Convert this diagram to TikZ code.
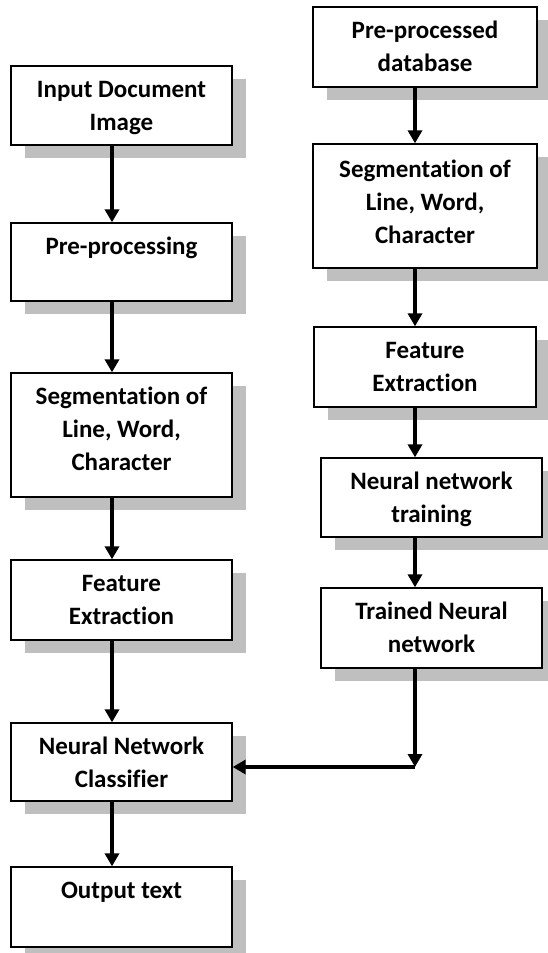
\documentclass[tikz,border=0pt]{standalone}
\usepackage{fontspec}
\setmainfont{Carlito}[Ligatures={NoCommon}]
\usetikzlibrary{arrows.meta,fit,shadows}
\definecolor{shadowgray}{RGB}{191,191,191}
\newcommand\mystrut{\rule{0pt}{20pt}}
\begin{document}
\begin{tikzpicture}[x=1pt,y=-1pt,
 box/.style={draw=black,line width=1.3pt,fill=white,inner sep=0pt,
   drop shadow={shadow xshift=14pt,shadow yshift=-13pt,fill=shadowgray,opacity=1}},
 txt/.style={anchor=north,inner sep=0pt,align=center,font=\fontsize{25}{33}\selectfont\bfseries},
 arr/.style={line width=4pt,-{Triangle[width=14pt,length=13pt]}},
 conn/.style={line width=4pt}]
\useasboundingbox (0,0) rectangle (548,953);
\coordinate (lc) at (112,0);
\coordinate (rc) at (415,0);
% left column
\node[box,fit={(11,66) (232,145)}] (L1) {};
\node[box,fit={(11,223) (232,301)}] (L2) {};
\node[box,fit={(11,373) (232,497)}] (L3) {};
\node[box,fit={(11,560) (232,640)}] (L4) {};
\node[box,fit={(11,723) (232,801)}] (L5) {};
\node[box,fit={(11,867) (232,947)}] (L6) {};
% right column
\node[box,fit={(313,7) (537,87)}] (R1) {};
\node[box,fit={(313,144) (537,268)}] (R2) {};
\node[box,fit={(314,327) (536,407)}] (R3) {};
\node[box,fit={(321,458) (542,537)}] (R4) {};
\node[box,fit={(321,588) (542,668)}] (R5) {};
% texts
\node[txt] (tL1) at ([yshift=-12pt]L1.north) {\mystrut Input Document\\Image};
\node[txt] (tL2) at ([yshift=-12pt]L2.north) {\mystrut Pre-processing};
\node[txt] (tL3) at ([yshift=-12pt]L3.north) {\mystrut Segmentation of\\Line, Word,\\Character};
\node[txt] (tL4) at ([yshift=-12pt]L4.north) {\mystrut Feature\\Extraction};
\node[txt] (tL5) at ([yshift=-12pt]L5.north) {\mystrut Neural Network\\Classifier};
\node[txt] (tL6) at ([yshift=-12pt]L6.north) {\mystrut Output text};
\node[txt] (tR1) at ([yshift=-12pt]R1.north) {\mystrut Pre-processed\\database};
\node[txt] (tR2) at ([yshift=-14pt]R2.north) {\mystrut Segmentation of\\Line, Word,\\Character};
\node[txt] (tR3) at ([yshift=-12pt]R3.north) {\mystrut Feature\\Extraction};
\node[txt] (tR4) at ([yshift=-12pt]R4.north) {\mystrut Neural network\\training};
\node[txt] (tR5) at ([yshift=-12pt]R5.north) {\mystrut Trained Neural\\network};
% arrows left
\draw[arr] (L1.south -| lc) -- (L2.north -| lc);
\draw[arr] (L2.south -| lc) -- (L3.north -| lc);
\draw[arr] (L3.south -| lc) -- (L4.north -| lc);
\draw[arr] (L4.south -| lc) -- (L5.north -| lc);
\draw[arr] (L5.south -| lc) -- (L6.north -| lc);
% arrows right
\draw[arr] (R1.south -| rc) -- (R2.north -| rc);
\draw[arr] (R2.south -| rc) -- (R3.north -| rc);
\draw[arr] (R3.south -| rc) -- (R4.north -| rc);
\draw[arr] (R4.south -| rc) -- (R5.north -| rc);
\coordinate (J) at (415,767);
\draw[arr] (R5.south -| rc) -- (J);
\draw[arr] (J) -- (L5.east |- J);
\end{tikzpicture}
\end{document}
